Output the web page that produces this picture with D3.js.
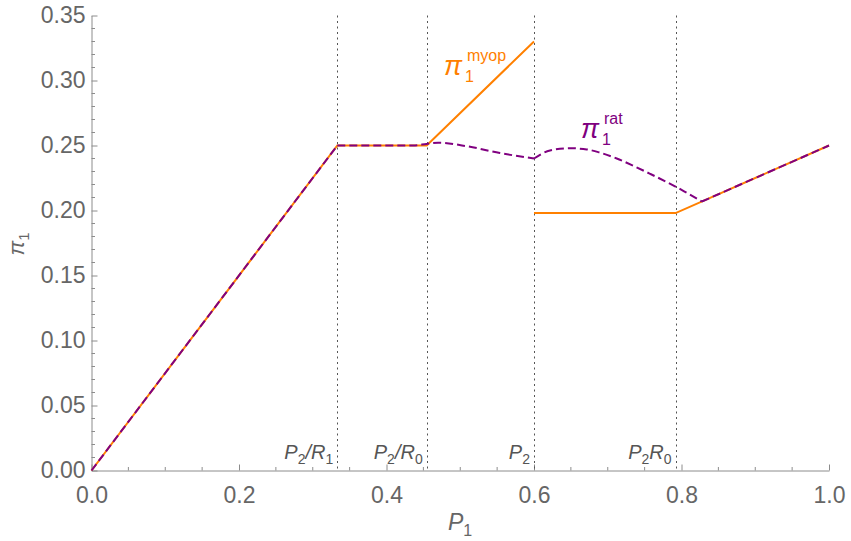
<!DOCTYPE html>
<html>
<head>
<meta charset="utf-8">
<script src="https://cdn.jsdelivr.net/npm/d3@7"></script>
<style>
  body { margin: 0; background: #fff; }
  text { font-family: "Liberation Sans", Arial, sans-serif; }
</style>
</head>
<body>
<div id="chart"></div>
<script>
// myopic profit, two pieces (jump at P1 = P2)
const myopP1a = [0, 0.3333, 0.4545, 0.6];
const myopPia = [0, 0.25, 0.25, 0.33];
const myopP1b = [0.6, 0.792, 1.0];
const myopPib = [0.198, 0.198, 0.25];

// rational profit
const ratP1 = [0, 0.3333, 0.436, 0.4543, 0.47, 0.5085, 0.5538, 0.6, 0.6217, 0.6489, 0.6715, 0.6895, 0.7122, 0.735, 0.7575, 0.7803, 0.8035, 0.8276, 1.0];
const ratPi = [0, 0.25, 0.25, 0.2512, 0.2521, 0.2495, 0.2442, 0.2400, 0.2462, 0.2479, 0.2470, 0.2445, 0.2400, 0.2343, 0.2282, 0.2218, 0.2148, 0.2069, 0.25];
const ratKinks = [0, 0.3333, 0.6, 0.8276, 1.0];

// vertical reference lines
const markX = [0.3333, 0.4545, 0.6, 0.792];
const markLabels = [["P", "2", "/R", "1"], ["P", "2", "/R", "0"], ["P", "2", "", ""], ["P", "2", "R", "0"]];

const xTicks = [0, 0.2, 0.4, 0.6, 0.8, 1.0];
const yTicks = [0, 0.05, 0.10, 0.15, 0.20, 0.25, 0.30, 0.35];

const width = 851, height = 541;
const orange = "#ff8000", purple = "#800080";

const svg = d3.select("#chart").append("svg")
    .attr("width", width)
    .attr("height", height);

const x = d3.scaleLinear().domain([0, 1]).range([91.5, 829]);
const y = d3.scaleLinear().domain([0, 0.35]).range([470.5, 15.5]);

// axes
const axisColor = "#8c8c8c";
const xAxis = svg.append("g").attr("transform", `translate(0,${y(0)})`)
    .call(d3.axisBottom(x).tickValues(xTicks).tickFormat(d3.format(".1f")).tickSizeInner(-6).tickSizeOuter(0).tickPadding(16));
const yAxis = svg.append("g").attr("transform", `translate(${x(0)},0)`)
    .call(d3.axisLeft(y).tickValues(yTicks).tickFormat(d3.format(".2f")).tickSizeInner(-6).tickSizeOuter(0).tickPadding(6));

[xAxis, yAxis].forEach(g => {
  g.select(".domain").attr("stroke", axisColor);
  g.selectAll(".tick line").attr("stroke", axisColor);
  g.selectAll(".tick text").attr("fill", "#666").attr("font-size", 23)
    .attr("font-family", "'Liberation Sans', Arial, sans-serif");
});
xAxis.selectAll(".tick text").attr("dy", "0.71em");

// minor ticks
const xMinor = d3.range(0.05, 1, 0.05).filter(v => Math.abs(v * 5 - Math.round(v * 5)) > 1e-6);
svg.append("g").selectAll("line").data(xMinor).join("line")
    .attr("x1", d => x(d)).attr("x2", d => x(d))
    .attr("y1", y(0)).attr("y2", y(0) - 3.5)
    .attr("stroke", axisColor);
const yMinor = d3.range(0.01, 0.35, 0.01).filter(v => Math.abs(v * 20 - Math.round(v * 20)) > 1e-6);
svg.append("g").selectAll("line").data(yMinor).join("line")
    .attr("x1", x(0)).attr("x2", x(0) + 3.5)
    .attr("y1", d => y(d)).attr("y2", d => y(d))
    .attr("stroke", axisColor);

// dotted verticals
svg.append("g").selectAll("line").data(markX).join("line")
    .attr("x1", d => Math.round(x(d)) + 0.5).attr("x2", d => Math.round(x(d)) + 0.5)
    .attr("y1", y(0.35)).attr("y2", y(0))
    .attr("stroke", "#555").attr("stroke-width", 1)
    .attr("stroke-dasharray", "2,3.5");

// labels for verticals
const ml = svg.append("g").selectAll("text").data(markX).join("text")
    .attr("x", d => x(d) - 4).attr("y", 459)
    .attr("text-anchor", "end")
    .attr("font-size", 20).attr("font-style", "italic").attr("fill", "#555");
ml.each(function(d, i) {
  const t = d3.select(this), parts = markLabels[i];
  t.append("tspan").text(parts[0]);
  t.append("tspan").attr("font-size", 14).attr("font-style", "normal").attr("dy", 5).text(parts[1]);
  if (parts[2]) {
    t.append("tspan").attr("dy", -5).text(parts[2]);
    t.append("tspan").attr("font-size", 14).attr("font-style", "normal").attr("dy", 5).text(parts[3]);
  }
});

// myopic curve
const line = d3.line().x(d => x(d[0])).y(d => y(d[1]));
const myopA = d3.zip(myopP1a, myopPia), myopB = d3.zip(myopP1b, myopPib);
[myopA, myopB].forEach(seg => {
  svg.append("path").datum(seg).attr("d", line)
    .attr("fill", "none").attr("stroke", orange).attr("stroke-width", 2);
});

// rational curve, smooth between kinks
const rat = d3.zip(ratP1, ratPi);
const smooth = d3.line().x(d => x(d[0])).y(d => y(d[1])).curve(d3.curveMonotoneX);
for (let k = 0; k < ratKinks.length - 1; k++) {
  const seg = rat.filter(p => p[0] >= ratKinks[k] - 1e-9 && p[0] <= ratKinks[k + 1] + 1e-9);
  svg.append("path").datum(seg).attr("d", seg.length > 2 ? smooth : line)
    .attr("fill", "none").attr("stroke", purple).attr("stroke-width", 2)
    .attr("stroke-dasharray", "8,4");
}

// curve labels
function piLabel(px, py, sup, color) {
  const g = svg.append("g").attr("fill", color);
  g.append("text").attr("x", px).attr("y", py).attr("font-size", 27).attr("font-style", "italic").text("π");
  g.append("text").attr("x", px + 23).attr("y", py - 14).attr("font-size", 16).text(sup);
  g.append("text").attr("x", px + 21).attr("y", py + 7).attr("font-size", 16).text("1");
}
piLabel(444, 75, "myop", orange);
piLabel(581, 138, "rat", purple);

// axis titles
const xt = svg.append("text").attr("x", 460).attr("y", 530).attr("text-anchor", "middle")
    .attr("fill", "#666").attr("font-size", 23).attr("font-style", "italic");
xt.append("tspan").text("P");
xt.append("tspan").attr("font-size", 16).attr("dy", 6).attr("font-style", "normal").text("1");

const yt = svg.append("text").attr("transform", "translate(24,244) rotate(-90)").attr("text-anchor", "middle")
    .attr("fill", "#666").attr("font-size", 22);
yt.append("tspan").attr("font-style", "italic").text("π");
yt.append("tspan").attr("font-size", 15).attr("dy", 5).text("1");
</script>
</body>
</html>
